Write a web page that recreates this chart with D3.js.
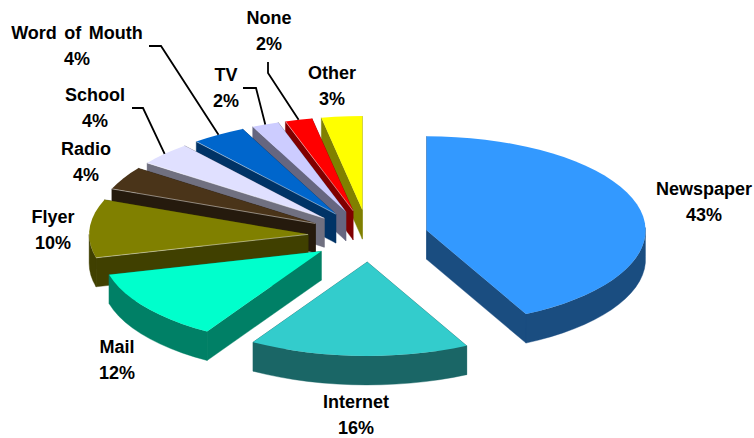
<!DOCTYPE html>
<html>
<head>
<meta charset="utf-8">
<script src="https://cdn.jsdelivr.net/npm/d3@7/dist/d3.min.js"></script>
<style>
html,body{margin:0;padding:0;background:#fff}
svg{display:block}
text{font-family:"Liberation Sans",Arial,sans-serif;font-weight:bold;font-size:18px;fill:#000;text-anchor:middle;word-spacing:2.5px}
</style>
</head>
<body>
<svg id="chart" width="754" height="438"></svg>
<script>
// Survey shares, clockwise from twelve o'clock
const categories = ["Newspaper","Internet","Mail","Flyer","Radio","School","Word of Mouth","TV","None","Other"];
const shares = [43,16,12,10,4,4,4,2,2,3];
const topColors = ["#3399FF","#33CCCC","#00FFCC","#808000","#4A3419","#E0E0FF","#0066CC","#CCCCFF","#FF0000","#FFFF00"];

// Where each two-line label sits: centre x and first baseline
const labelSpots = {
  "Newspaper":[704,195], "Internet":[356,408], "Mail":[117,353], "Flyer":[53,223],
  "Radio":[86,155], "School":[95,101], "Word of Mouth":[77,39], "TV":[226,81],
  "None":[269,24], "Other":[332,79]
};
// Leader lines start beside the label, then run to the middle of the slice rim
const leaderStarts = {
  "Word of Mouth":[[149,46],[161,46]],
  "School":[[132,108],[143,108]],
  "TV":[[243,88],[256,88]],
  "None":[[268,62],[268,73]]
};
// Slices whose leading top edge catches a thin highlight
const litEdges = ["Flyer","Radio","School","Word of Mouth","None"];

// Tilted pie: a unit circle projected onto an ellipse, extruded downward
const centre = {x:368, y:236};
const radius = {x:219, y:94};
const explode = {x:60, y:26};
const depth = 29;
const lineHeight = 26;
const frontDrift = 3;                 // near slices lean slightly right
const rimTwist = 1.9*Math.PI/180;     // rim angles ease backward through the lower right

const px = d3.scaleLinear().domain([-1,1]).range([-radius.x, radius.x]);
const py = d3.scaleLinear().domain([-1,1]).range([-radius.y, radius.y]);

const slices = d3.pie().sort(null).startAngle(0).endAngle(2*Math.PI)(shares)
  .map((d,i) => {
    const mid = (d.startAngle + d.endAngle)/2;
    return {
      name: categories[i], value: d.value, a0: d.startAngle, a1: d.endAngle, mid,
      color: topColors[i],
      apex: [centre.x + explode.x*Math.sin(mid) + frontDrift*Math.max(0,-Math.cos(mid)),
             centre.y - explode.y*Math.cos(mid)]
    };
  });

const twisted = a => a - rimTwist*Math.max(0, Math.sin(0.7*a));
const rimPoint = (s,a) => {
  const t = twisted(a);
  return [s.apex[0] + px(Math.sin(t)), s.apex[1] + py(-Math.cos(t))];
};
const drop = p => [p[0], p[1] + depth];
const shade = c => { const r = d3.rgb(c); return d3.rgb(r.r/2, r.g/2, r.b/2).formatHex(); };
const outline = d3.line().curve(d3.curveLinearClosed);
const arcAngles = (a0,a1) => {
  const n = Math.max(2, Math.ceil((a1-a0)/(Math.PI/45)));
  return d3.range(n+1).map(k => a0 + (a1-a0)*k/n);
};

const svg = d3.select("#chart");

// Paint from the back of the pie to the front so nearer slices hide farther walls
const painted = slices.slice().sort((a,b) => d3.descending(Math.cos(a.mid), Math.cos(b.mid)));

const groups = svg.selectAll("g.slice").data(painted).join("g").attr("class","slice");

groups.each(function(s){
  const g = d3.select(this);
  const wall = shade(s.color);
  const face = pts => g.append("path").attr("d", outline(pts)).attr("fill", wall).attr("stroke", wall).attr("stroke-width",0.4);
  const start = rimPoint(s,s.a0), end = rimPoint(s,s.a1);

  face([s.apex, end, drop(end), drop(s.apex)]);
  face([s.apex, start, drop(start), drop(s.apex)]);

  // Outer wall only where the rim faces the viewer
  const f0 = Math.max(s.a0, Math.PI/2), f1 = Math.min(s.a1, 3*Math.PI/2);
  if (f1 > f0) {
    const rim = arcAngles(f0,f1).map(a => rimPoint(s,a));
    face(rim.concat(rim.slice().reverse().map(drop)));
  }

  const top = [s.apex].concat(arcAngles(s.a0,s.a1).map(a => rimPoint(s,a)));
  g.append("path").attr("d", outline(top)).attr("fill", s.color);

  if (litEdges.includes(s.name)) {
    g.append("path").attr("d", d3.line()([s.apex, start]))
      .attr("fill","none").attr("stroke","#fff").attr("stroke-opacity",0.65).attr("stroke-width",0.7);
  }
});

// Leaders
const leaderLine = d3.line();
svg.selectAll("path.leader")
  .data(slices.filter(s => leaderStarts[s.name]))
  .join("path").attr("class","leader")
  .attr("d", s => leaderLine(leaderStarts[s.name].concat([rimPoint(s,s.mid)])))
  .attr("fill","none").attr("stroke","#000").attr("stroke-width",1.8);

// Labels: name over percentage
const labels = svg.selectAll("g.label").data(slices).join("g").attr("class","label");
labels.append("text").attr("x", s => labelSpots[s.name][0]).attr("y", s => labelSpots[s.name][1]).text(s => s.name);
labels.append("text").attr("x", s => labelSpots[s.name][0]).attr("y", s => labelSpots[s.name][1] + lineHeight).text(s => s.value + "%");
</script>
</body>
</html>
